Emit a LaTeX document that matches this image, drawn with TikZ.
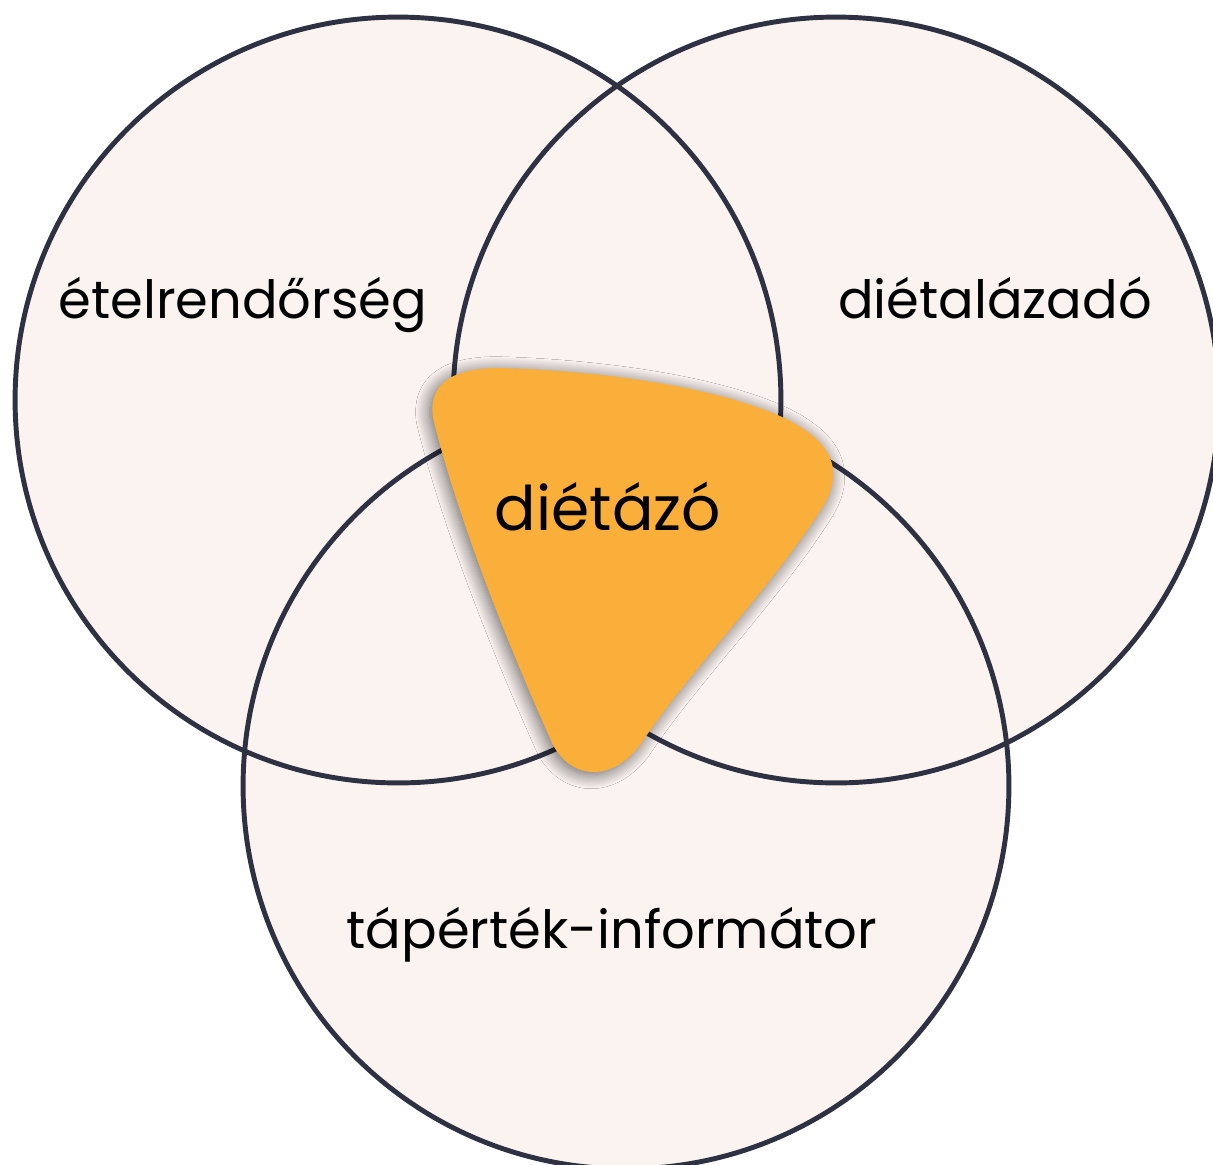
\documentclass[tikz,border=0pt]{standalone}
\usepackage{fontspec}
\setmainfont{Poppins}
\usetikzlibrary{shadows.blur}
\definecolor{vennfill}{HTML}{FBF3F0}
\definecolor{vennline}{HTML}{2D3142}
\definecolor{core}{HTML}{FAAF3A}
\begin{document}
\begin{tikzpicture}[x=0.02cm,y=-0.02cm,
  vennline/.style={draw=vennline,line width=2.8pt},
  label/.style={font=\fontsize{30}{36}\selectfont,text=black,inner sep=0pt,anchor=base},
]
\useasboundingbox (0,0) rectangle (1213,1164);
\begin{scope}
\clip (0,0) rectangle (1213,1164);
\fill[vennfill] (398,400) circle[radius=7.66cm];
\fill[vennfill] (836,400) circle[radius=7.66cm];
\fill[vennfill] (626,786) circle[radius=7.66cm];
\draw[vennline] (398,400) circle[radius=7.66cm];
\draw[vennline] (836,400) circle[radius=7.66cm];
\draw[vennline] (626,786) circle[radius=7.66cm];
\end{scope}
\fill[core, blur shadow={shadow xshift=-1.5pt,shadow yshift=-1.5pt,shadow blur radius=8pt,shadow opacity=60,shadow blur steps=16}]
  (433,418) .. controls (428,385) and (450,368) .. (500,368)
  .. controls (640,372) and (760,398) .. (805,430)
  .. controls (838,452) and (840,480) .. (822,508)
  .. controls (770,590) and (690,670) .. (640,745)
  .. controls (612,782) and (572,780) .. (553,745)
  .. controls (510,650) and (458,520) .. cycle;
\node[label] (l1) at (243,318) {ételrendőrség};
\node[label] (l2) at (995,318) {diétalázadó};
\node[label] (l3) at (612,948) {tápérték-informátor};
\node[label,font=\fontsize{35}{42}\selectfont] (l4) at (608,530) {diétázó};
\end{tikzpicture}
\end{document}
